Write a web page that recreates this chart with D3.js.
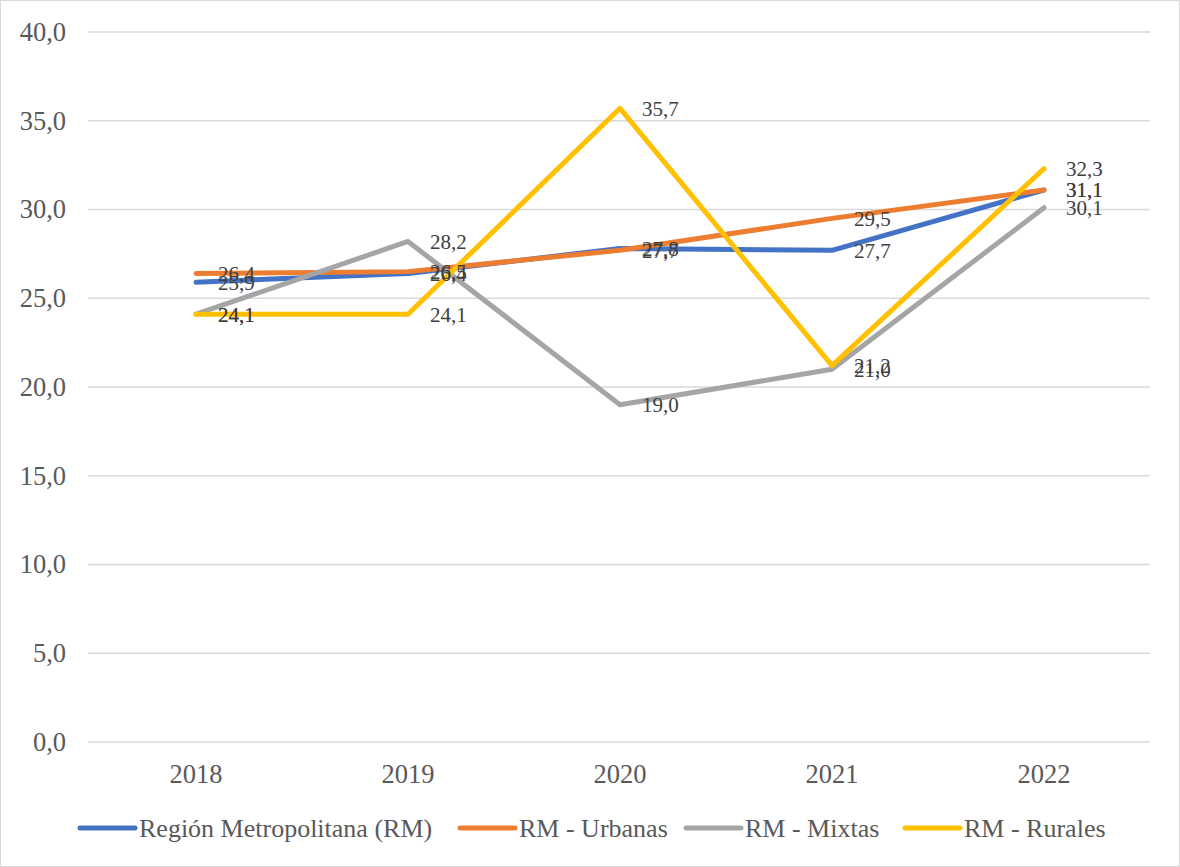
<!DOCTYPE html>
<html><head><meta charset="utf-8">
<script src="https://cdn.jsdelivr.net/npm/d3@7"></script>
<style>
html,body{margin:0;padding:0;background:#fff;}
svg{display:block;}
svg text{font-family:"Liberation Serif","Times New Roman",serif;}
</style></head>
<body>
<svg id="chart" width="1180" height="867"></svg>
<script>
const years = ["2018","2019","2020","2021","2022"];
const seriesNames = ["Región Metropolitana (RM)","RM - Urbanas","RM - Mixtas","RM - Rurales"];
const rmValues = [25.9, 26.4, 27.8, 27.7, 31.1];
const urbanasValues = [26.4, 26.5, 27.7, 29.5, 31.1];
const mixtasValues = [24.1, 28.2, 19.0, 21.0, 30.1];
const ruralesValues = [24.1, 24.1, 35.7, 21.2, 32.3];
const yTicks = [0,5,10,15,20,25,30,35,40];
const colors = ["#4472C4","#ED7D31","#A5A5A5","#FFC000"];

const series = [rmValues, urbanasValues, mixtasValues, ruralesValues].map((v,i)=>({name:seriesNames[i], values:v, color:colors[i]}));
const FONT = '"Liberation Serif","Times New Roman",serif';

const svg = d3.select("#chart");
svg.append("rect").attr("x",0.5).attr("y",0.5).attr("width",1179).attr("height",866)
  .attr("fill","#fff").attr("stroke","#d9d9d9");

const x = d3.scaleBand().domain(years).range([90,1150]);
const y = d3.scaleLinear().domain([0,40]).range([742,32]);
const fmt = d => d3.format(".1f")(d).replace(".", ",");

// grid
svg.append("g").selectAll("line").data(yTicks).join("line")
  .attr("x1",88).attr("x2",1150)
  .attr("y1",d=>y(d)).attr("y2",d=>y(d))
  .attr("stroke","#d9d9d9").attr("stroke-width",1.3);

// y axis labels
const yAxis = d3.axisLeft(y).tickValues(yTicks).tickFormat(fmt).tickSize(0).tickPadding(0);
const gy = svg.append("g").attr("transform","translate(66,0)").call(yAxis);
gy.select(".domain").remove();
gy.attr("font-family",FONT);
gy.selectAll("text").style("font-family",FONT)
  .style("font-size","26.5px").attr("fill","#595959");

// x axis labels
const xAxis = d3.axisBottom(x).tickSize(0).tickPadding(0);
const gx = svg.append("g").attr("transform","translate(0,764)").call(xAxis);
gx.select(".domain").remove();
gx.attr("font-family",FONT);
gx.selectAll("text").style("font-family",FONT)
  .style("font-size","26.5px").attr("fill","#595959");

const cx = d => x(d) + x.bandwidth()/2;
const line = d3.line().x((d,i)=>cx(years[i])).y(d=>y(d));

svg.append("g").selectAll("path").data(series).join("path")
  .attr("d", s=>line(s.values))
  .attr("fill","none").attr("stroke",s=>s.color).attr("stroke-width",5)
  .attr("stroke-linejoin","round").attr("stroke-linecap","round");

// data labels
const lg = svg.append("g");
series.forEach(s=>{
  lg.selectAll(null).data(s.values).join("text")
    .attr("x",(d,i)=>cx(years[i])+22)
    .attr("y",d=>y(d))
    .attr("dy","0.35em")
    .style("font-family",FONT)
    .style("font-size","21px").attr("fill","#404040")
    .text(fmt);
});

// legend
const legendX = [80, 460, 686, 905];
const leg = svg.append("g");
series.forEach((s,i)=>{
  leg.append("line").attr("x1",legendX[i]).attr("x2",legendX[i]+55)
    .attr("y1",828).attr("y2",828).attr("stroke",s.color).attr("stroke-width",5)
    .attr("stroke-linecap","round");
  leg.append("text").attr("x",legendX[i]+59).attr("y",828).attr("dy","0.35em")
    .style("font-family",FONT)
    .style("font-size","26px").attr("fill","#595959").text(s.name);
});
</script>
</body></html>
